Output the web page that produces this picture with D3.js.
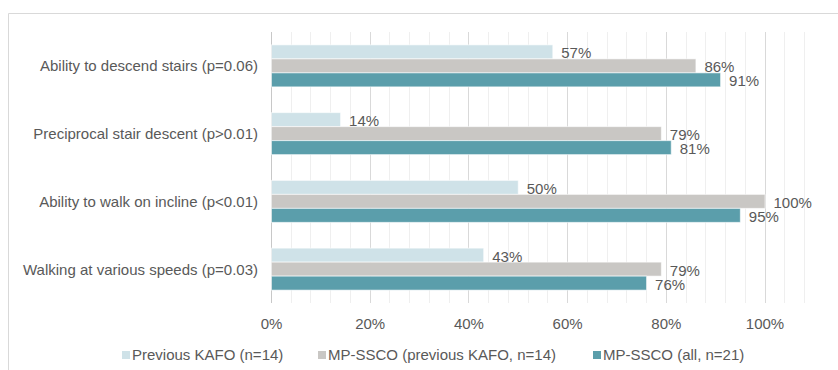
<!DOCTYPE html>
<html>
<head>
<meta charset="utf-8">
<script src="https://cdn.jsdelivr.net/npm/d3@7"></script>
<style>
  html, body { margin: 0; padding: 0; background: #fff; }
  svg { display: block; font-family: "Liberation Sans", Arial, sans-serif; }
</style>
</head>
<body>
<svg id="chart" width="838" height="370"></svg>
<script>
// Outcome categories, top to bottom
const categories = [
  "Ability to descend stairs (p=0.06)",
  "Preciprocal stair descent (p>0.01)",
  "Ability to walk on incline (p<0.01)",
  "Walking at various speeds (p=0.03)"
];

// Series names and values (fraction of subjects)
const seriesNames = [
  "Previous KAFO (n=14)",
  "MP-SSCO (previous KAFO, n=14)",
  "MP-SSCO (all, n=21)"
];
const previousKafo = [0.57, 0.14, 0.50, 0.43];
const mpSscoPrevious = [0.86, 0.79, 1.00, 0.79];
const mpSscoAll = [0.91, 0.81, 0.95, 0.76];

const xTicks = [0, 0.2, 0.4, 0.6, 0.8, 1.0];

const seriesColors = ["#cfe2e8", "#c9c7c4", "#5b9eab"];
const textColor = "#595959";

const seriesValues = [previousKafo, mpSscoPrevious, mpSscoAll];
const rows = categories.map((c, i) => ({
  category: c,
  values: seriesValues.map((vals, s) => ({ series: s, value: vals[i] }))
}));

const svg = d3.select("#chart");

// Outer frame (top and left edges)
svg.append("line").attr("x1", 8.5).attr("x2", 838).attr("y1", 13.5).attr("y2", 13.5)
  .attr("stroke", "#d9d9d9");
svg.append("line").attr("x1", 8.5).attr("x2", 8.5).attr("y1", 13.5).attr("y2", 370)
  .attr("stroke", "#d9d9d9");

const plot = { left: 271, top: 32, bottom: 303 };

const x = d3.scaleLinear().domain([0, 1]).range([plot.left, 764.5]);
const y = d3.scaleBand().domain(categories).range([plot.top, plot.bottom]).paddingInner(0).paddingOuter(0);
const barH = 14;
const groupH = barH * seriesNames.length;

// Minor gridlines every 4%, major every 20%
const minor = d3.range(0, 1.09, 0.04).map(v => +v.toFixed(2));
svg.append("g").selectAll("line").data(minor).join("line")
  .attr("x1", d => Math.round(x(d)) + 0.5).attr("x2", d => Math.round(x(d)) + 0.5)
  .attr("y1", plot.top).attr("y2", plot.bottom)
  .attr("stroke", d => Math.abs(d * 100 % 20) < 1e-6 || Math.abs(d * 100 % 20 - 20) < 1e-6 ? "#d9d9d9" : "#efefef")
  .attr("stroke-width", 1);

// Value axis labels
const xAxis = d3.axisBottom(x).tickValues(xTicks).tickFormat(d3.format(".0%")).tickSize(0).tickPadding(0);
const gx = svg.append("g").attr("transform", `translate(0,${plot.bottom + 26})`).call(xAxis);
gx.select(".domain").remove();
gx.selectAll("text").attr("fill", textColor).attr("font-size", 15)
  .attr("font-family", "Liberation Sans, Arial, sans-serif").attr("dy", 0);

// Category axis line at 0%
svg.append("line").attr("x1", Math.round(x(0)) + 0.5).attr("x2", Math.round(x(0)) + 0.5)
  .attr("y1", plot.top).attr("y2", plot.bottom).attr("stroke", "#c8c8c8");

// Category labels
svg.append("g").selectAll("text").data(categories).join("text")
  .attr("x", plot.left - 13)
  .attr("y", d => y(d) + y.bandwidth() / 2)
  .attr("dy", "0.36em")
  .attr("text-anchor", "end")
  .attr("font-size", 15)
  .attr("fill", textColor)
  .text(d => d);

// Bars
const groups = svg.append("g").selectAll("g").data(rows).join("g")
  .attr("transform", d => `translate(0,${y(d.category) + (y.bandwidth() - groupH) / 2})`);

groups.selectAll("rect").data(d => d.values).join("rect")
  .attr("x", x(0) + 0.5)
  .attr("y", d => d.series * barH)
  .attr("width", d => x(d.value) - x(0))
  .attr("height", barH)
  .attr("fill", d => seriesColors[d.series])
  .attr("stroke", "rgba(255,255,255,0.6)")
  .attr("stroke-width", 1);

// Value labels
groups.selectAll("text").data(d => d.values).join("text")
  .attr("x", d => x(d.value) + 9)
  .attr("y", d => d.series * barH + barH / 2 + 1)
  .attr("dy", "0.36em")
  .attr("font-size", 15)
  .attr("fill", textColor)
  .text(d => d3.format(".0%")(d.value));

// Legend
const legendX = [122, 318, 593];
const legend = svg.append("g").selectAll("g").data(seriesNames).join("g")
  .attr("transform", (d, i) => `translate(${legendX[i]},355)`);
legend.append("rect").attr("x", 0).attr("y", -4).attr("width", 8).attr("height", 8)
  .attr("fill", (d, i) => seriesColors[i]);
legend.append("text").attr("x", 10).attr("y", 0).attr("dy", "0.36em")
  .attr("font-size", 15).attr("fill", textColor).text(d => d);
</script>
</body>
</html>
